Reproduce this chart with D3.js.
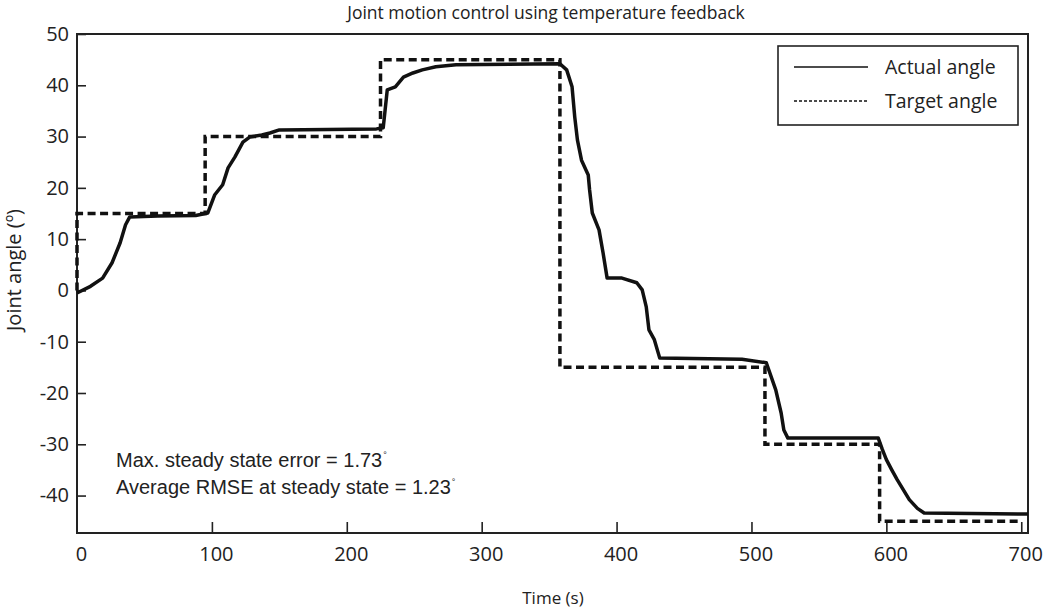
<!DOCTYPE html>
<html>
<head>
<meta charset="utf-8">
<script src="https://cdn.jsdelivr.net/npm/d3@7"></script>
<style>
  body { margin: 0; background: #fff; }
  svg { display: block; }
</style>
</head>
<body>
<svg id="chart" width="1050" height="610"></svg>
<script>
// target angle (step input)
const targetTime  = [0, 0, 95, 95, 225, 225, 358, 358, 510, 510, 595, 595, 700];
const targetAngle = [0, 15, 15, 30, 30, 45, 45, -15, -15, -30, -30, -45, -45];

// actual angle
const actualTime = [0, 10, 19, 26, 32, 36, 39, 60, 88, 97, 102, 108, 112, 117, 123, 128, 137, 143, 150,
  222, 227, 230, 236, 242, 249, 256, 266, 281, 358, 363, 367, 369, 371, 374, 379, 380, 382, 387, 390,
  393, 404, 415, 419, 422, 424, 428, 432, 493, 511, 518, 522, 524, 527, 594, 597, 600, 604, 608, 617,
  623, 628, 705];
const actualAngle = [-0.5, 0.8, 2.4, 5.4, 9.3, 12.8, 14.3, 14.5, 14.6, 15.1, 18.6, 20.6, 23.9, 26, 28.9, 29.9, 30.3, 30.7, 31.3,
  31.5, 31.7, 39.1, 39.7, 41.6, 42.4, 43, 43.6, 44, 44.2, 43, 39.7, 33.8, 29.3, 25.4, 22.5, 19.6, 15.1, 11.8, 7.3,
  2.4, 2.4, 1.5, 0.1, -3.2, -7.7, -9.6, -13.2, -13.4, -14.1, -19.4, -23.9, -27.2, -28.8, -28.8, -31, -33, -35, -36.9, -40.8,
  -42.5, -43.4, -43.6];

const xTicks = [0, 100, 200, 300, 400, 500, 600, 700];
const yTicks = [50, 40, 30, 20, 10, 0, -10, -20, -30, -40];

const plotL = 77, plotR = 1028, plotT = 34, plotB = 533;
const tickFont = "'Open Sans', sans-serif";

const svg = d3.select("#chart");

const x = d3.scaleLinear().domain([0, 705]).range([plotL, plotR]);
const y = d3.scaleLinear().domain([-47.3, 50]).range([plotB, plotT]);

// title
svg.append("text")
  .attr("x", 546)
  .attr("y", 19)
  .attr("text-anchor", "middle")
  .style("font-family", tickFont)
  .style("font-size", "17.5px")
  .attr("fill", "#222")
  .text("Joint motion control using temperature feedback");

// axes
const yAxis = svg.append("g")
  .attr("transform", `translate(${plotL},0)`)
  .call(d3.axisLeft(y).tickValues(yTicks).tickSize(-9).tickPadding(8).tickFormat(d => String(d)));

const xAxis = svg.append("g")
  .attr("transform", `translate(0,${plotB})`)
  .call(d3.axisBottom(x).tickValues(xTicks).tickSize(-11).tickPadding(14).tickFormat(d => String(d)));

[xAxis, yAxis].forEach(g => {
  g.select(".domain").remove();
  g.selectAll(".tick line").attr("stroke", "#222").attr("stroke-width", 1.6);
  g.selectAll(".tick text")
    .attr("fill", "#222")
    .style("font-family", tickFont)
    .style("font-size", "20px");
});
xAxis.selectAll(".tick text").attr("x", 4);
xAxis.selectAll(".tick").filter(d => d === 0).select("line").remove();

// frame
svg.append("rect")
  .attr("x", plotL)
  .attr("y", plotT)
  .attr("width", plotR - plotL)
  .attr("height", plotB - plotT)
  .attr("fill", "none")
  .attr("stroke", "#222")
  .attr("stroke-width", 2);

// axis labels
svg.append("text")
  .attr("x", 553)
  .attr("y", 604)
  .attr("text-anchor", "middle")
  .style("font-family", tickFont)
  .style("font-size", "17px")
  .attr("fill", "#222")
  .text("Time (s)");

svg.append("text")
  .attr("transform", "translate(21,270) rotate(-90)")
  .attr("text-anchor", "middle")
  .style("font-family", tickFont)
  .style("font-size", "20px")
  .attr("fill", "#222")
  .text("Joint angle (º)");

// lines
const target = targetTime.map((t, i) => [t, targetAngle[i]]);
const actual = actualTime.map((t, i) => [t, actualAngle[i]]);

const line = d3.line().x(d => x(d[0])).y(d => y(d[1]));

svg.append("path")
  .attr("d", line(target))
  .attr("fill", "none")
  .attr("stroke", "#111")
  .attr("stroke-width", 3.5)
  .attr("stroke-dasharray", "8,4.5");

svg.append("path")
  .attr("d", line(actual))
  .attr("fill", "none")
  .attr("stroke", "#111")
  .attr("stroke-width", 3.5)
  .attr("stroke-linejoin", "round");

// annotation
const notes = [["Max. steady state error = 1.73", 467], ["Average RMSE at steady state = 1.23", 494]];
notes.forEach(n => {
  const t = svg.append("text")
    .attr("x", 116)
    .attr("y", n[1])
    .style("font-family", "'Liberation Sans', Arial, sans-serif")
    .style("font-size", "20px")
    .attr("fill", "#222")
    .text(n[0]);
  t.append("tspan")
    .attr("dx", 1)
    .attr("dy", -9)
    .style("font-size", "9px")
    .text("°");
});

// legend
svg.append("rect")
  .attr("x", 778)
  .attr("y", 46)
  .attr("width", 240)
  .attr("height", 79)
  .attr("fill", "#fff")
  .attr("stroke", "#222")
  .attr("stroke-width", 1.6);

svg.append("line")
  .attr("x1", 794).attr("x2", 868)
  .attr("y1", 67).attr("y2", 67)
  .attr("stroke", "#111")
  .attr("stroke-width", 1.5);

svg.append("line")
  .attr("x1", 794).attr("x2", 868)
  .attr("y1", 101).attr("y2", 101)
  .attr("stroke", "#111")
  .attr("stroke-width", 1.5)
  .attr("stroke-dasharray", "3,2");

svg.append("text")
  .attr("x", 885).attr("y", 74)
  .style("font-family", tickFont)
  .style("font-size", "19.5px")
  .attr("fill", "#222")
  .text("Actual angle");

svg.append("text")
  .attr("x", 885).attr("y", 108)
  .style("font-family", tickFont)
  .style("font-size", "19.5px")
  .attr("fill", "#222")
  .text("Target angle");
</script>
</body>
</html>
